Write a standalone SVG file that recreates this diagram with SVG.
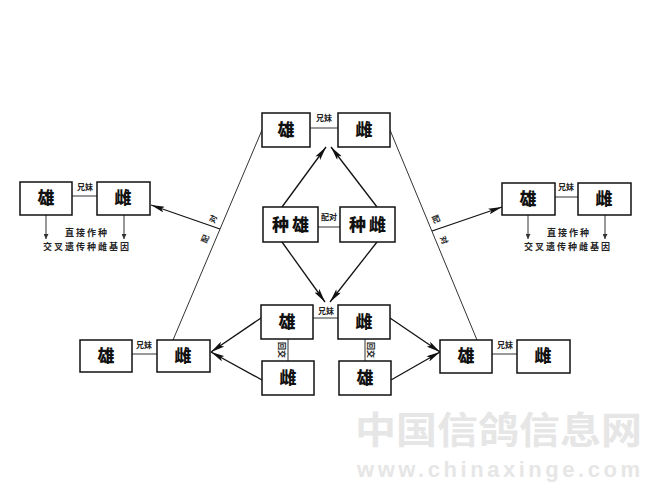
<svg xmlns="http://www.w3.org/2000/svg" width="650" height="488" viewBox="0 0 650 488">
<defs>
<marker id="ah" viewBox="0 0 14 6" refX="14" refY="3" markerWidth="14" markerHeight="6" markerUnits="userSpaceOnUse" orient="auto">
<path d="M0,0 L14,3 L0,6 L3,3 Z" fill="#111"/>
</marker>
<marker id="sa" viewBox="0 0 6 6" refX="6" refY="3" markerWidth="5" markerHeight="5" markerUnits="userSpaceOnUse" orient="auto">
<path d="M0,0 L6,3 L0,6 Z" fill="#333"/>
</marker>
<style>
.box{fill:#fff;stroke:#111;stroke-width:1.5}
.big{font-family:"Noto Sans CJK SC","Noto Sans CJK TC",sans-serif;font-weight:900;font-size:17px;fill:#111;text-anchor:middle}
.big2{font-family:"Noto Sans CJK SC","Noto Sans CJK TC",sans-serif;font-weight:900;font-size:17px;fill:#111;text-anchor:middle;letter-spacing:3px}
.sm{font-family:"Noto Sans CJK SC","Noto Sans CJK TC",sans-serif;font-weight:bold;font-size:8px;fill:#222;text-anchor:middle}
.note{font-family:"Noto Sans CJK SC","Noto Sans CJK TC",sans-serif;font-weight:bold;font-size:9px;fill:#222;text-anchor:middle;letter-spacing:2px}
.ln{stroke:#333;stroke-width:1;fill:none}
.arr{stroke:#111;stroke-width:1.3;fill:none;marker-end:url(#ah)}
.dn{stroke:#333;stroke-width:1;fill:none;marker-end:url(#sa)}
.wm{font-family:"Noto Sans CJK SC",sans-serif;font-weight:bold;fill:#e6e6e6}
</style>
</defs>
<rect width="650" height="488" fill="#fff"/>
<g id="watermark">
<text class="wm" x="355" y="444" font-size="37" textLength="287" lengthAdjust="spacingAndGlyphs">中国信鸽信息网</text>
<text x="357" y="477" font-family="'Liberation Sans',sans-serif" font-weight="bold" font-size="22" fill="#e6e6e6" textLength="283" lengthAdjust="spacing">www.chinaxinge.com</text>
</g>
<g id="connectors">
<line class="ln" x1="310" y1="128" x2="338" y2="128"/>
<line class="ln" x1="318" y1="227" x2="340" y2="227"/>
<line class="ln" x1="72" y1="196" x2="97" y2="196"/>
<line class="ln" x1="555" y1="197" x2="578" y2="197"/>
<line class="ln" x1="313" y1="318" x2="338" y2="318"/>
<line class="ln" x1="132" y1="354" x2="157" y2="354"/>
<line class="ln" x1="492" y1="354" x2="517" y2="354"/>
<line class="ln" x1="288" y1="339" x2="288" y2="361"/>
<line class="ln" x1="365" y1="339" x2="365" y2="361"/>
<line class="ln" x1="262" y1="130" x2="173" y2="340"/>
<line class="ln" x1="390" y1="130" x2="477" y2="340"/>
<line class="arr" x1="220" y1="229" x2="151" y2="205"/>
<line class="arr" x1="432" y1="231" x2="502" y2="207"/>
<line class="arr" x1="282" y1="207" x2="326" y2="147"/>
<line class="arr" x1="377" y1="207" x2="331" y2="147"/>
<line class="arr" x1="282" y1="242" x2="325" y2="302"/>
<line class="arr" x1="377" y1="242" x2="330" y2="302"/>
<line class="arr" x1="261" y1="318" x2="211" y2="352"/>
<line class="arr" x1="262" y1="380" x2="211" y2="352"/>
<line class="arr" x1="390" y1="318" x2="440" y2="352"/>
<line class="arr" x1="391" y1="380" x2="440" y2="352"/>
<line class="dn" x1="46" y1="215" x2="46" y2="239"/>
<line class="dn" x1="124" y1="215" x2="124" y2="239"/>
<line class="dn" x1="528" y1="215" x2="528" y2="239"/>
<line class="dn" x1="605" y1="215" x2="605" y2="239"/>
</g>
<g id="labels">
<text class="sm" x="324" y="121">兄妹</text>
<text class="sm" x="329" y="220">配对</text>
<text class="sm" x="85" y="190">兄妹</text>
<text class="sm" x="566" y="190">兄妹</text>
<text class="sm" x="326" y="314">兄妹</text>
<text class="sm" x="144" y="348">兄妹</text>
<text class="sm" x="505" y="348">兄妹</text>
<text class="sm" transform="translate(282,350) rotate(90)" y="3">回交</text>
<text class="sm" transform="translate(371,350) rotate(90)" y="3">回交</text>
<text class="sm" font-size="10" transform="translate(213,219) rotate(-67)" y="3">对</text>
<text class="sm" font-size="10" transform="translate(205,239) rotate(-67)" y="3">配</text>
<text class="sm" font-size="10" transform="translate(436,219) rotate(67)" y="3">配</text>
<text class="sm" font-size="10" transform="translate(444,240) rotate(67)" y="3">对</text>
<text class="note" x="87" y="236">直接作种</text>
<text class="note" x="87" y="250">交叉遗传种雌基因</text>
<text class="note" x="569" y="236">直接作种</text>
<text class="note" x="568" y="250">交叉遗传种雌基因</text>
</g>
<g id="top-m"><rect class="box" x="262" y="113" width="48" height="34"/><text class="big" x="286" y="136">雄</text></g>
<g id="top-f"><rect class="box" x="338" y="113" width="52" height="34"/><text class="big" x="364" y="136">雌</text></g>
<g id="breed-m"><rect class="box" x="263" y="207" width="55" height="35"/><text class="big2" x="292" y="231">种雄</text></g>
<g id="breed-f"><rect class="box" x="340" y="207" width="55" height="35"/><text class="big2" x="369" y="231">种雌</text></g>
<g id="left-m"><rect class="box" x="20" y="182" width="52" height="33"/><text class="big" x="46" y="204">雄</text></g>
<g id="left-f"><rect class="box" x="97" y="182" width="53" height="33"/><text class="big" x="123" y="204">雌</text></g>
<g id="right-m"><rect class="box" x="502" y="183" width="53" height="32"/><text class="big" x="528" y="205">雄</text></g>
<g id="right-f"><rect class="box" x="578" y="183" width="53" height="32"/><text class="big" x="604" y="205">雌</text></g>
<g id="bc-m"><rect class="box" x="261" y="305" width="52" height="34"/><text class="big" x="287" y="328">雄</text></g>
<g id="bc-f"><rect class="box" x="338" y="305" width="52" height="34"/><text class="big" x="364" y="328">雌</text></g>
<g id="bc-f2"><rect class="box" x="262" y="361" width="52" height="34"/><text class="big" x="288" y="384">雌</text></g>
<g id="bc-m2"><rect class="box" x="339" y="361" width="52" height="34"/><text class="big" x="365" y="384">雄</text></g>
<g id="bl-m"><rect class="box" x="80" y="340" width="52" height="32"/><text class="big" x="106" y="362">雄</text></g>
<g id="bl-f"><rect class="box" x="157" y="340" width="53" height="32"/><text class="big" x="183" y="362">雌</text></g>
<g id="br-m"><rect class="box" x="440" y="340" width="52" height="33"/><text class="big" x="466" y="362">雄</text></g>
<g id="br-f"><rect class="box" x="517" y="340" width="53" height="33"/><text class="big" x="543" y="362">雌</text></g>
</svg>
